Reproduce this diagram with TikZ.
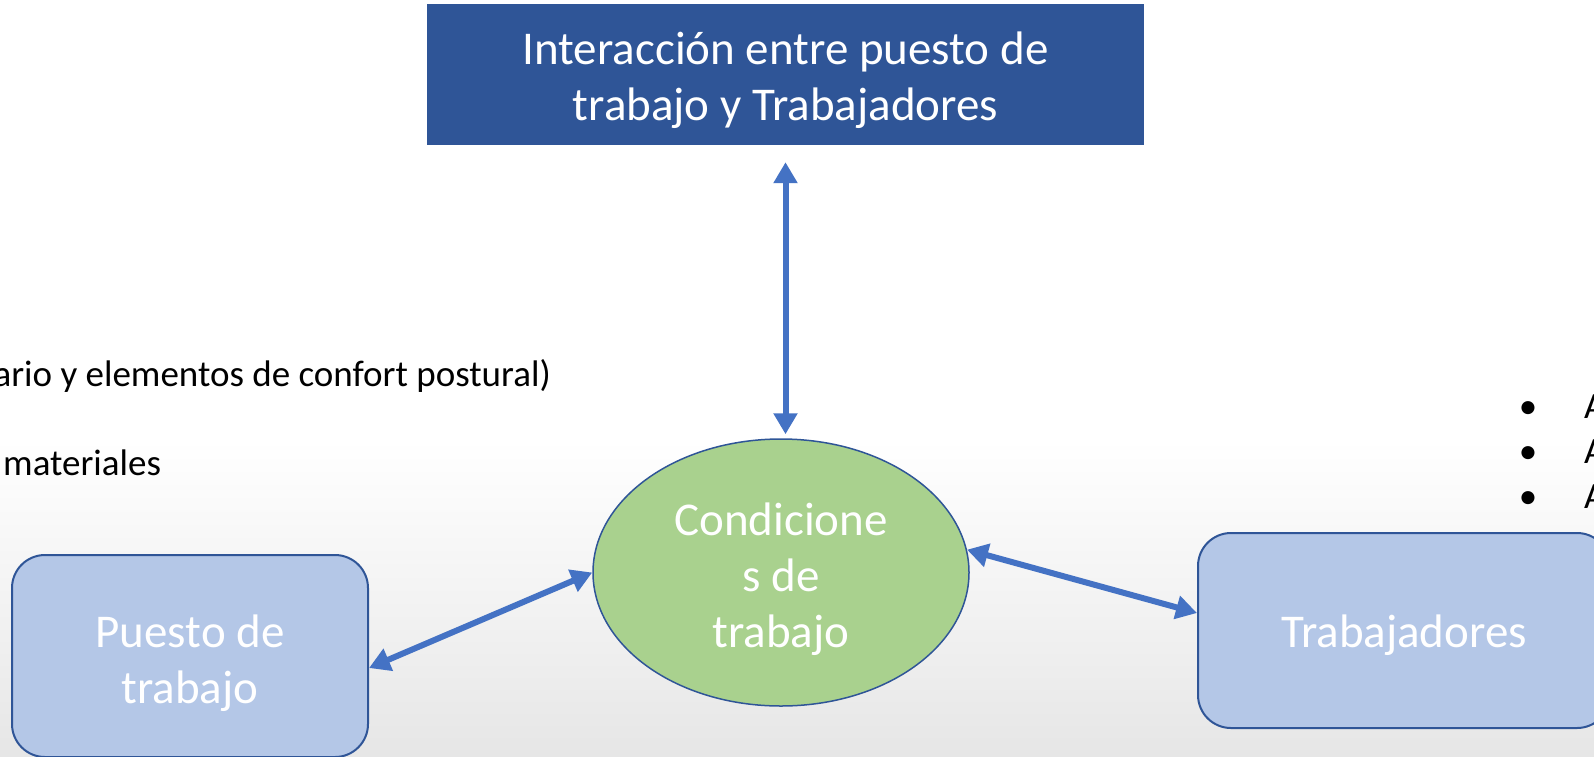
\documentclass[tikz,border=0pt]{standalone}
\usepackage{fontspec}
\setmainfont{Carlito}
\usepackage{tikz}
\usetikzlibrary{positioning,shapes.geometric,arrows.meta}
\definecolor{darkblue}{HTML}{2F5597}
\definecolor{lightblue}{HTML}{B4C7E7}
\definecolor{lightgreen}{HTML}{A9D18E}
\definecolor{arrowblue}{HTML}{4472C4}
\definecolor{bggray}{HTML}{E6E6E6}
\pgfdeclareverticalshading{bgfade}{100bp}{color(0bp)=(bggray); color(25bp)=(bggray); color(34bp)=(bggray!55!white); color(46bp)=(white); color(100bp)=(white)}
\newcommand{\dropline}[1]{\rule{0pt}{#1}}

\begin{document}
\begin{tikzpicture}[x=1pt,y=-1pt]
	\tikzset{
		boxtext/.style={text=white,align=center,font=\fontsize{47}{56}\selectfont,inner sep=0pt},
		topbox/.style={boxtext,fill=darkblue,minimum width=717pt,minimum height=141pt},
		condnode/.style={boxtext,ellipse,draw=darkblue,line width=1.5pt,fill=lightgreen,minimum width=376pt,minimum height=267pt},
		sidebox/.style={boxtext,rounded corners=33pt,draw=darkblue,line width=2pt,fill=lightblue},
		sidetext/.style={inner sep=0pt,font=\fontsize{37}{45}\selectfont},
		dlink/.style={{Triangle[width=23pt,length=21pt]}-{Triangle[width=23pt,length=21pt]},arrowblue,line width=6pt},
	}
	\shade[shading=bgfade] (0,0) rectangle (1594,756);
	\useasboundingbox (0,0) rectangle (1594,756);

	\node[topbox] (inter) at (785.5,74.5) {\dropline{45pt}Interacción entre puesto de\\trabajo y Trabajadores};
	\node[condnode] (cond) at (781,572.5) {\dropline{47pt}Condicione\\s de\\trabajo};
	\node[sidebox,minimum width=356pt,minimum height=202pt] (puesto) at (190,656) {\dropline{47pt}Puesto de\\trabajo};
	\node[sidebox,minimum width=412pt,minimum height=195pt] (trab) at (1404,630.5) {\dropline{43pt}Trabajadores};

	\node[sidetext,anchor=base east] (mobil) at (551,386) {ario y elementos de confort postural)};
	\node[sidetext,anchor=base west] (mater) at (3,475) {materiales};
	\foreach \i in {0,1,2}{
		\node[sidetext,anchor=base] (dot\i) at (1528,{418+45*\i}) {\textbullet};
		\node[sidetext,anchor=base west] (item\i) at (1584,{418+45*\i}) {A};
	}

	\draw[dlink,shorten <=17pt,shorten >=4pt] (inter.south) -- (inter.south |- cond.north);
	\draw[dlink] ([yshift=-12pt]puesto.east) -- (cond.west);
	\draw[dlink] (cond.7) -- ([yshift=17.5pt]trab.west);
\end{tikzpicture}
\end{document}
